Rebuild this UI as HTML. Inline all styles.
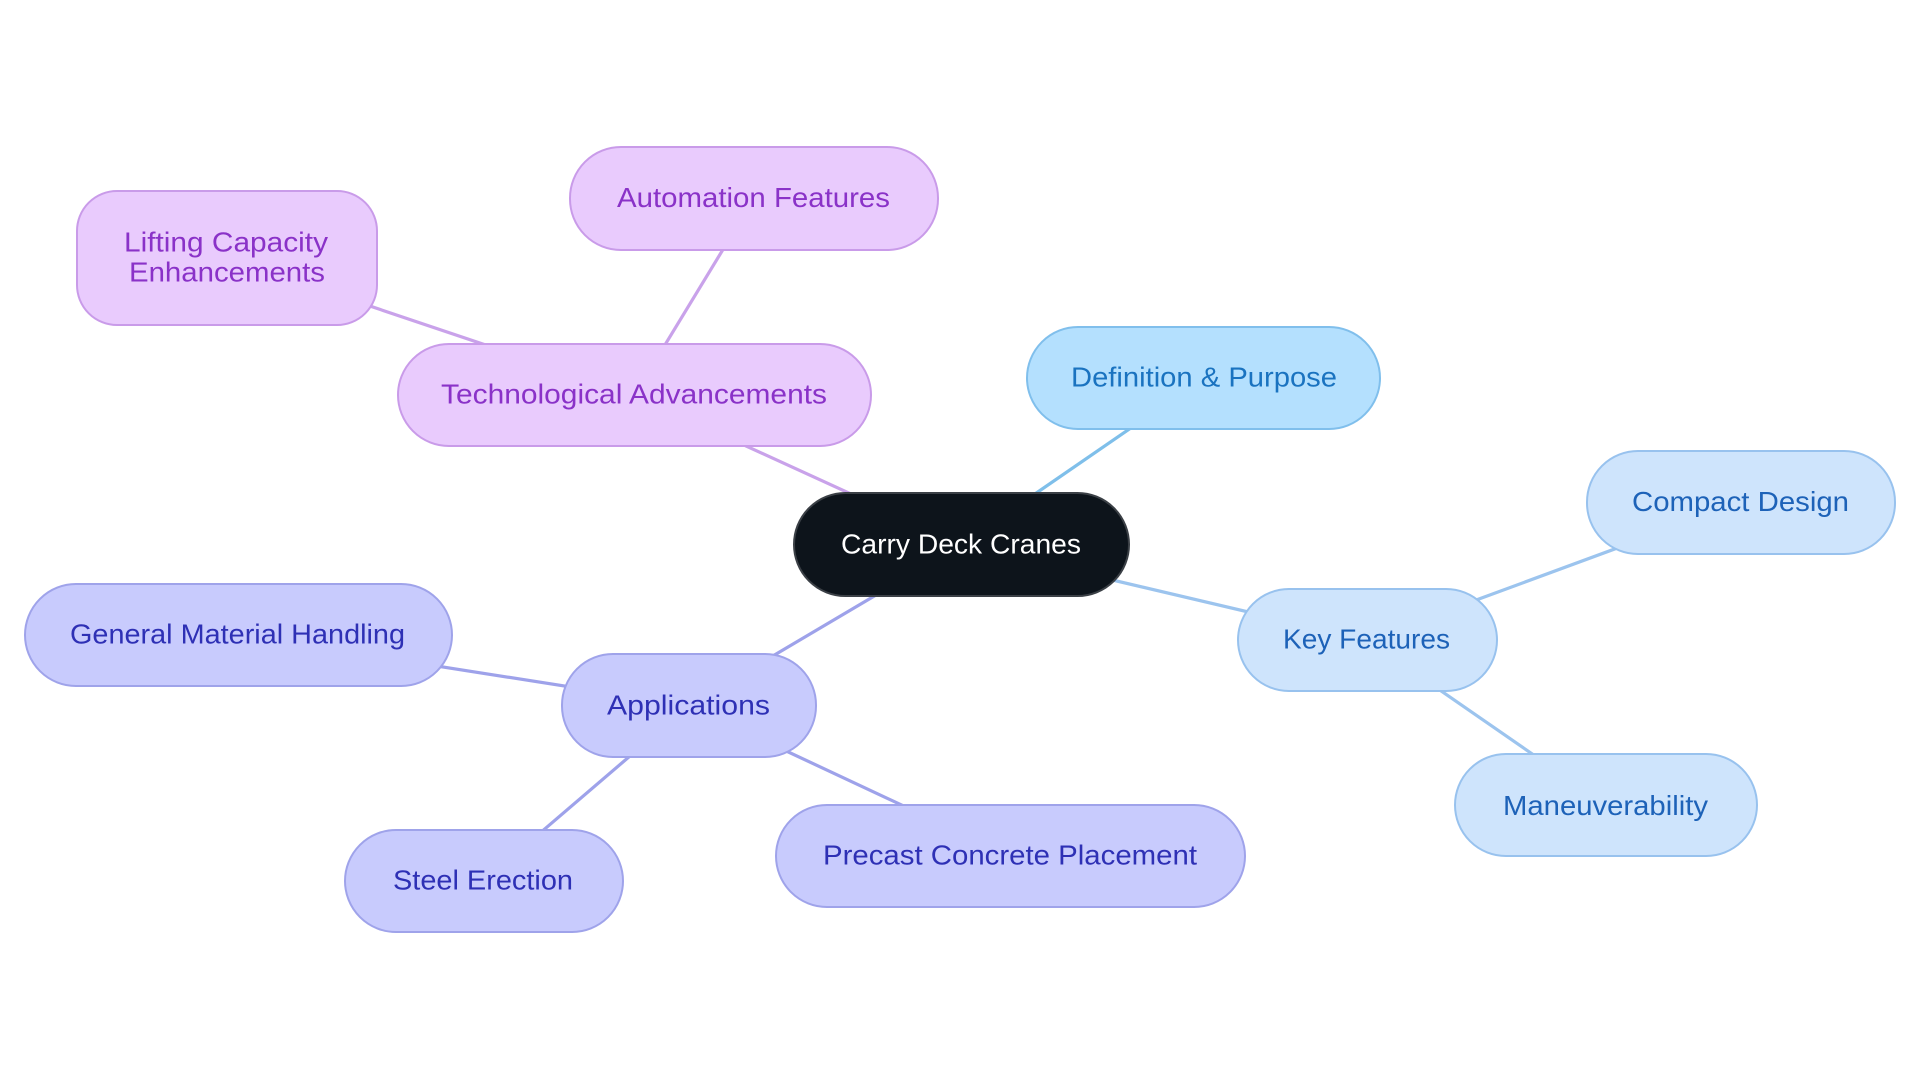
<!DOCTYPE html>
<html>
<head>
<meta charset="utf-8">
<style>
  html, body { margin: 0; padding: 0; background: #ffffff; }
  body { width: 1920px; height: 1083px; overflow: hidden; }
  svg { display: block; }
  text { font-family: "Liberation Sans", Arial, sans-serif; font-size: 28px; }
</style>
</head>
<body>
<svg width="1920" height="1083" viewBox="0 0 1920 1083" xmlns="http://www.w3.org/2000/svg">
  <rect x="0" y="0" width="1920" height="1083" fill="#ffffff"/>

  <!-- connectors -->
  <g stroke-width="3.2" stroke-linecap="round" fill="none">
    <line x1="961.5" y1="544.5" x2="634.5" y2="395" stroke="#c9a2ea"/>
    <line x1="634.5" y1="395" x2="754" y2="198.5" stroke="#c9a2ea"/>
    <line x1="634.5" y1="395" x2="227" y2="258" stroke="#c9a2ea"/>
    <line x1="961.5" y1="544.5" x2="1203.5" y2="378" stroke="#7fbfea"/>
    <line x1="961.5" y1="544.5" x2="1367.5" y2="640" stroke="#9cc4ee"/>
    <line x1="1367.5" y1="640" x2="1741" y2="502.5" stroke="#9cc4ee"/>
    <line x1="1367.5" y1="640" x2="1606" y2="805" stroke="#9cc4ee"/>
    <line x1="961.5" y1="544.5" x2="689" y2="705.5" stroke="#9ea2ea"/>
    <line x1="689" y1="705.5" x2="238.5" y2="635" stroke="#9ea2ea"/>
    <line x1="689" y1="705.5" x2="484" y2="881" stroke="#9ea2ea"/>
    <line x1="689" y1="705.5" x2="1010.5" y2="856" stroke="#9ea2ea"/>
  </g>

  <!-- purple group -->
  <g stroke="#c99be9" stroke-width="2" fill="#e9cbfd">
    <rect x="398" y="344" width="473" height="102" rx="51"/>
    <rect x="570" y="147" width="368" height="103" rx="51"/>
    <rect x="77" y="191" width="300" height="134" rx="40"/>
  </g>
  <g fill="#8a32c8">
    <text x="441" y="403.5" textLength="386" lengthAdjust="spacingAndGlyphs">Technological Advancements</text>
    <text x="617" y="207.2" textLength="273" lengthAdjust="spacingAndGlyphs">Automation Features</text>
    <text x="124" y="251.7" textLength="204" lengthAdjust="spacingAndGlyphs">Lifting Capacity</text>
    <text x="129" y="281.7" textLength="196" lengthAdjust="spacingAndGlyphs">Enhancements</text>
  </g>

  <!-- definition -->
  <rect x="1027" y="327" width="353" height="102" rx="51" fill="#b4e0fe" stroke="#80bfec" stroke-width="2"/>
  <text x="1071" y="386.7" fill="#1a73c0" textLength="266" lengthAdjust="spacingAndGlyphs">Definition &amp; Purpose</text>

  <!-- key features group -->
  <g stroke="#98c2ee" stroke-width="2" fill="#cee4fc">
    <rect x="1238" y="589" width="259" height="102" rx="51"/>
    <rect x="1587" y="451" width="308" height="103" rx="51"/>
    <rect x="1455" y="754" width="302" height="102" rx="51"/>
  </g>
  <g fill="#1d62b8">
    <text x="1283" y="648.3" textLength="167" lengthAdjust="spacingAndGlyphs">Key Features</text>
    <text x="1632" y="511" textLength="217" lengthAdjust="spacingAndGlyphs">Compact Design</text>
    <text x="1503" y="815" textLength="205" lengthAdjust="spacingAndGlyphs">Maneuverability</text>
  </g>

  <!-- applications group -->
  <g stroke="#9fa3ea" stroke-width="2" fill="#c8cbfd">
    <rect x="562" y="654" width="254" height="103" rx="51"/>
    <rect x="25" y="584" width="427" height="102" rx="51"/>
    <rect x="345" y="830" width="278" height="102" rx="51"/>
    <rect x="776" y="805" width="469" height="102" rx="51"/>
  </g>
  <g fill="#2e30b5">
    <text x="607" y="714.3" textLength="163" lengthAdjust="spacingAndGlyphs">Applications</text>
    <text x="70" y="643.5" textLength="335" lengthAdjust="spacingAndGlyphs">General Material Handling</text>
    <text x="393" y="889.5" textLength="180" lengthAdjust="spacingAndGlyphs">Steel Erection</text>
    <text x="823" y="864.5" textLength="374" lengthAdjust="spacingAndGlyphs">Precast Concrete Placement</text>
  </g>

  <!-- center -->
  <rect x="794" y="493" width="335" height="103" rx="51.5" fill="#0d141b" stroke="#3b4046" stroke-width="2"/>
  <text x="841" y="553.3" fill="#ffffff" textLength="240" lengthAdjust="spacingAndGlyphs">Carry Deck Cranes</text>
</svg>
</body>
</html>
